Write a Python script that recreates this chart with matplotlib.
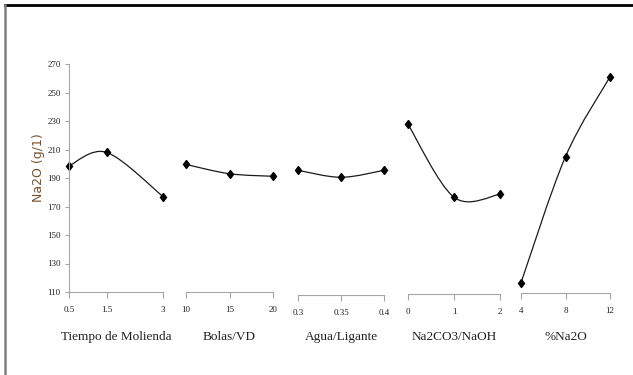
import matplotlib
matplotlib.use("Agg")
import matplotlib.pyplot as plt
from matplotlib.path import Path
from matplotlib.patches import PathPatch
from matplotlib.lines import Line2D

# main effects of each factor on Na2O (g/l)
factors = ['Tiempo de Molienda', 'Bolas/VD', 'Agua/Ligante', 'Na2CO3/NaOH', '%Na2O']
levels = [
    [0.5, 1.5, 3],
    [10, 15, 20],
    [0.3, 0.35, 0.4],
    [0, 1, 2],
    [4, 8, 12],
]
level_labels = [
    ['0.5', '1.5', '3'],
    ['10', '15', '20'],
    ['0.3', '0.35', '0.4'],
    ['0', '1', '2'],
    ['4', '8', '12'],
]
na2o = [
    [198.5, 208, 177],
    [199.5, 193, 191.2],
    [195.4, 190.5, 195.4],
    [227.7, 176.5, 178.6],
    [116.5, 205, 261],
]
yticks = [110, 130, 150, 170, 190, 210, 230, 250, 270]


def smooth_path(x, y):
    # excel-like smoothed line: catmull-rom as cubic bezier segments
    verts = [(x[0], y[0])]
    codes = [Path.MOVETO]
    n = len(x)
    for i in range(n - 1):
        x0, y0 = (x[i - 1], y[i - 1]) if i > 0 else (x[i], y[i])
        x3, y3 = (x[i + 2], y[i + 2]) if i + 2 < n else (x[i + 1], y[i + 1])
        c1 = (x[i] + (x[i + 1] - x0) / 6, y[i] + (y[i + 1] - y0) / 6)
        c2 = (x[i + 1] - (x3 - x[i]) / 6, y[i + 1] - (y3 - y[i]) / 6)
        verts += [c1, c2, (x[i + 1], y[i + 1])]
        codes += [Path.CURVE4] * 3
    return Path(verts, codes)


W, H = 633, 375
fig = plt.figure(figsize=(W / 100, H / 100), dpi=100)

# panel extents in pixels (left, right)
spans = [(69, 163), (186, 273), (298, 384), (408, 500), (521, 610)]
drops = [0, 0, 2.2, 1.5, 0.8]
y_top, y_bot = 64, 292
axis_col = '#a6a6a6'
tick_font = dict(family='Liberation Serif', size=6.5)

for k in range(len(factors)):
    l, r = spans[k]
    ax = fig.add_axes([l / W, (H - y_bot) / H, (r - l) / W, (y_bot - y_top) / H])
    ax.set_xlim(levels[k][0], levels[k][-1])
    ax.set_ylim(yticks[0], yticks[-1])
    for s in ['top', 'right']:
        ax.spines[s].set_visible(False)
    ax.spines['bottom'].set_color(axis_col)
    ax.spines['bottom'].set_position(('outward', drops[k]))
    ax.set_xticks(levels[k])
    ax.set_xticklabels(level_labels[k], fontdict=tick_font)
    ax.tick_params(axis='x', colors=axis_col, length=4, width=0.8, pad=6, labelcolor='#222222')
    if k == 0:
        ax.spines['left'].set_color(axis_col)
        ax.set_yticks(yticks)
        ax.set_yticklabels([str(v) for v in yticks], fontdict=tick_font)
        ax.tick_params(axis='y', colors=axis_col, length=3, width=0.8, pad=3, labelcolor='#222222')
        ax.set_ylabel('Na2O (g/1)', fontsize=9, color='#7a4f2a', family='DejaVu Sans', va='center')
        ax.yaxis.set_label_coords((38 - l) / (r - l), (y_bot - 168) / (y_bot - y_top))
    else:
        ax.spines['left'].set_visible(False)
        ax.set_yticks([])
    ax.patch.set_alpha(0)

    ax.add_patch(PathPatch(smooth_path(levels[k], na2o[k]), facecolor='none',
                           edgecolor='#1a1a1a', lw=0.9, clip_on=False))
    ax.plot(levels[k], na2o[k], linestyle='none', marker='d', markersize=4.5,
            color='black', clip_on=False)
    ax.set_xlabel(factors[k], family='Liberation Serif', fontsize=9.5, color='#222222', va='center')
    ax.xaxis.set_label_coords(0.5, -(337 - y_bot) / (y_bot - y_top))

# frame lines of the original figure
fig.add_artist(Line2D([5 / W, 1], [1 - 5 / H, 1 - 5 / H], color='black', lw=2))
fig.add_artist(Line2D([5 / W, 5 / W], [0, 1 - 5 / H], color='#7f7f7f', lw=1.8))

fig.savefig('out.png', dpi=100)
